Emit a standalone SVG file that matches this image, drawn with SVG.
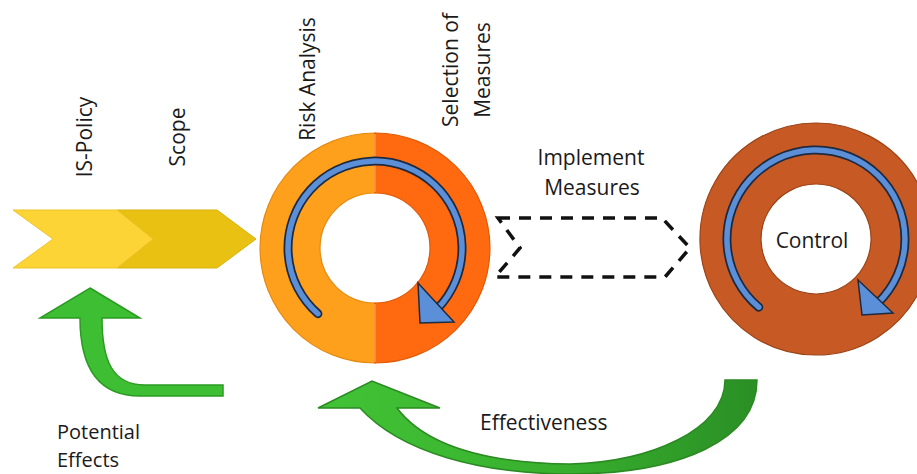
<svg xmlns="http://www.w3.org/2000/svg" width="917" height="474" viewBox="0 0 917 474">
<defs>
<style>
text{font-family:"Open Sans","Liberation Sans",sans-serif;font-size:21px;fill:#1a1a1a}
.mid{text-anchor:middle}
.sm{font-size:20px}
.arcback{fill:none;stroke:#1d2a40;stroke-width:9;stroke-linecap:round}
.arcfront{fill:none;stroke:#5b8fd8;stroke-width:5.5;stroke-linecap:round}
.head{fill:#5b8fd8;stroke:#1d2a40;stroke-width:1.5;stroke-linejoin:miter}
.dash{fill:none;stroke:#111;stroke-width:3.5;stroke-dasharray:12 9}
</style>
<linearGradient id="gEff" x1="0" y1="0" x2="1" y2="0">
<stop offset="0" stop-color="#42c336"/>
<stop offset="0.55" stop-color="#38b02e"/>
<stop offset="1" stop-color="#2a8f25"/>
</linearGradient>
</defs>
<rect width="917" height="474" fill="#ffffff"/>

<g id="scope">
<polygon points="117,210 217,210 256,239 217,268 117,268 153,239" fill="#e9c112" stroke="#d9b20c" stroke-width="1"/>
<text class="mid" transform="translate(185,137) rotate(-90)">Scope</text>
</g>
<g id="is-policy">
<polygon points="13,210 117,210 153,239 117,268 13,268 53,239" fill="#fdd435" stroke="#efc426" stroke-width="1"/>
<text class="mid" transform="translate(92,137) rotate(-90)">IS-Policy</text>
</g>

<g id="risk-analysis">
<path d="M375,133 A115,115 0 0 0 375,363 L375,303 A55,55 0 0 1 375,193 Z" fill="#ffa01c" stroke="#e48a10" stroke-width="1.2"/>
<path d="M375,133 A115,115 0 0 1 375,363 L375,303 A55,55 0 0 0 375,193 Z" fill="#ff6a10" stroke="#e05a08" stroke-width="1.2"/>
<path d="M375,134 V192 M375,304 V362" stroke="#ffb866" stroke-width="1"/>
<path class="arcback" d="M317.9,313.7 A87,87 0 1 1 437.6,308.5"/>
<path class="arcfront" d="M317.9,313.7 A87,87 0 1 1 437.6,308.5"/>
<polygon class="head" points="418,283 454,322 420,323"/>
<text class="mid" transform="translate(315,79) rotate(-90)">Risk Analysis</text>
</g>

<g id="selection-of-measures">
<text class="mid" transform="translate(458,70) rotate(-90)">Selection of</text>
<text class="mid" transform="translate(490,70) rotate(-90)">Measures</text>
</g>

<g id="implement-measures">
<polygon class="dash" points="498,218 662,218 690,248 665,277 495,277 520,248"/>
<text class="mid" x="591" y="165">Implement</text>
<text class="mid" x="592" y="195">Measures</text>
</g>

<g id="control">
<path d="M816,123 A116,116 0 1 1 815.9,123 Z M816,184 A55,55 0 1 0 816.1,184 Z" fill="#c75a24" fill-rule="evenodd" stroke="#9c4418" stroke-width="1.2"/>
<path class="arcback" d="M758.8,307.2 A89,89 0 1 1 877.8,303"/>
<path class="arcfront" d="M758.8,307.2 A89,89 0 1 1 877.8,303"/>
<polygon class="head" points="858,280 893,313 862,315"/>
<text class="mid" x="812" y="248">Control</text>
</g>

<g id="connectors">
<g id="potential-effects">
<path d="M90,288 L140,318 L102,318 C102,360 112,385 145,385 L223,385 L223,396 L140,396 C100,396 80,370 80,318 L40,318 Z" fill="#3ebf33" stroke="#2b9a22" stroke-width="1.5" stroke-linejoin="miter"/>
<text class="sm" x="57" y="439">Potential</text>
<text class="sm" x="57" y="467">Effects</text>
</g>
<g id="effectiveness">
<path d="M440,408 L397,408 C425,445 485,463 570,464 C650,462 725,430 725,380 L757,380 C757,440 680,474 570,474 C480,474 400,452 360,408 L318,408 L372,381 Z" fill="url(#gEff)" stroke="#2b8a22" stroke-width="1.5"/>
<text x="480" y="430">Effectiveness</text>
</g>
</g>
</svg>
